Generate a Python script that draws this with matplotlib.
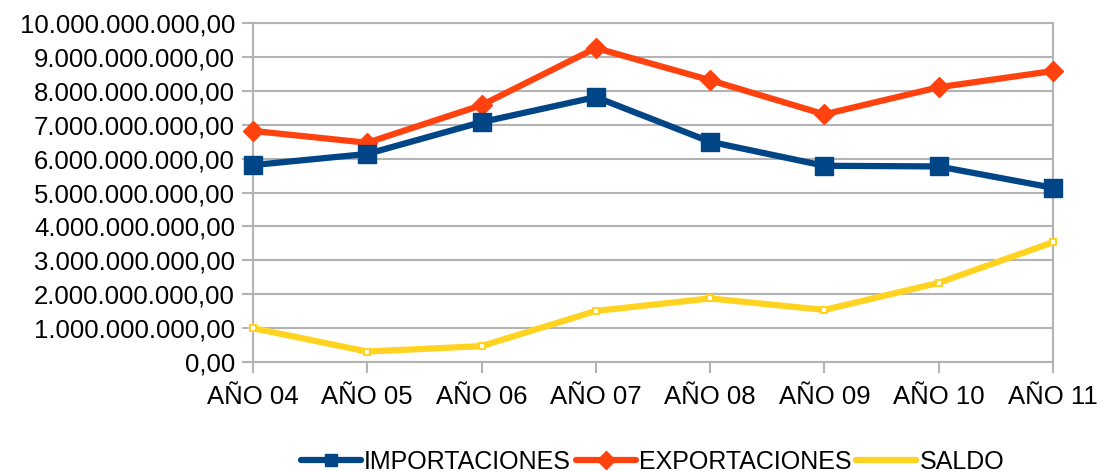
import matplotlib.pyplot as plt
from matplotlib.ticker import FuncFormatter

years = ["AÑO 04", "AÑO 05", "AÑO 06", "AÑO 07", "AÑO 08", "AÑO 09", "AÑO 10", "AÑO 11"]
importaciones = [5.81e9, 6.14e9, 7.08e9, 7.82e9, 6.50e9, 5.79e9, 5.77e9, 5.14e9]
exportaciones = [6.82e9, 6.47e9, 7.58e9, 9.27e9, 8.32e9, 7.31e9, 8.11e9, 8.59e9]
saldo = [0.99e9, 0.30e9, 0.46e9, 1.50e9, 1.87e9, 1.53e9, 2.33e9, 3.53e9]

BLUE = "#004586"
ORANGE = "#ff420e"
YELLOW = "#ffd320"
GRID = "#b3b3b3"

plt.rcParams["font.family"] = ["Liberation Sans", "DejaVu Sans"]


def es_fmt(v, _pos):
    # spanish style: dots for thousands, comma for decimals
    s = f"{v:,.2f}"
    return s.replace(",", "X").replace(".", ",").replace("X", ".")


fig = plt.figure(figsize=(11.06, 4.72), dpi=100)
ax = fig.add_axes([0.2287, 0.2337, 0.7233, 0.7169])

x = list(range(len(years)))
style = dict(lw=4.5, solid_capstyle="round", solid_joinstyle="round", clip_on=False)
ax.plot(x, importaciones, color=BLUE, marker="s", ms=13, label="IMPORTACIONES", zorder=4, **style)
ax.plot(x, exportaciones, color=ORANGE, marker="D", ms=10, label="EXPORTACIONES", zorder=3, **style)
ax.plot(x, saldo, color=YELLOW, marker="s", ms=4, mfc="white", mec=YELLOW, mew=1.5,
        label="SALDO", zorder=3, **style)

ax.set_xlim(0, len(years) - 1)
ax.set_ylim(0, 10e9)
ax.set_yticks([i * 1e9 for i in range(11)])
ax.yaxis.set_major_formatter(FuncFormatter(es_fmt))
ax.set_xticks(x)
ax.set_xticklabels(years)

ax.grid(axis="y", color=GRID, lw=1.5)
ax.set_axisbelow(True)
for sp in ax.spines.values():
    sp.set_color(GRID)
    sp.set_linewidth(1.5)
ax.tick_params(axis="both", colors=GRID, labelcolor="black", labelsize=18.5, length=8, width=1.5)
ax.tick_params(axis="y", pad=5)
ax.tick_params(axis="x", pad=9)

leg = fig.legend(loc="center", bbox_to_anchor=(0.59, 0.022), ncol=3, frameon=False,
                 handlelength=2.4, handletextpad=0.12, columnspacing=0.2,
                 prop={"family": ["Liberation Sans Narrow", "Liberation Sans"], "size": 18})
for h in leg.legend_handles:
    h.set_markersize(9)
    h.set_solid_capstyle("round")
leg.legend_handles[2].set_marker("")

fig.savefig("out.png", dpi=100)
